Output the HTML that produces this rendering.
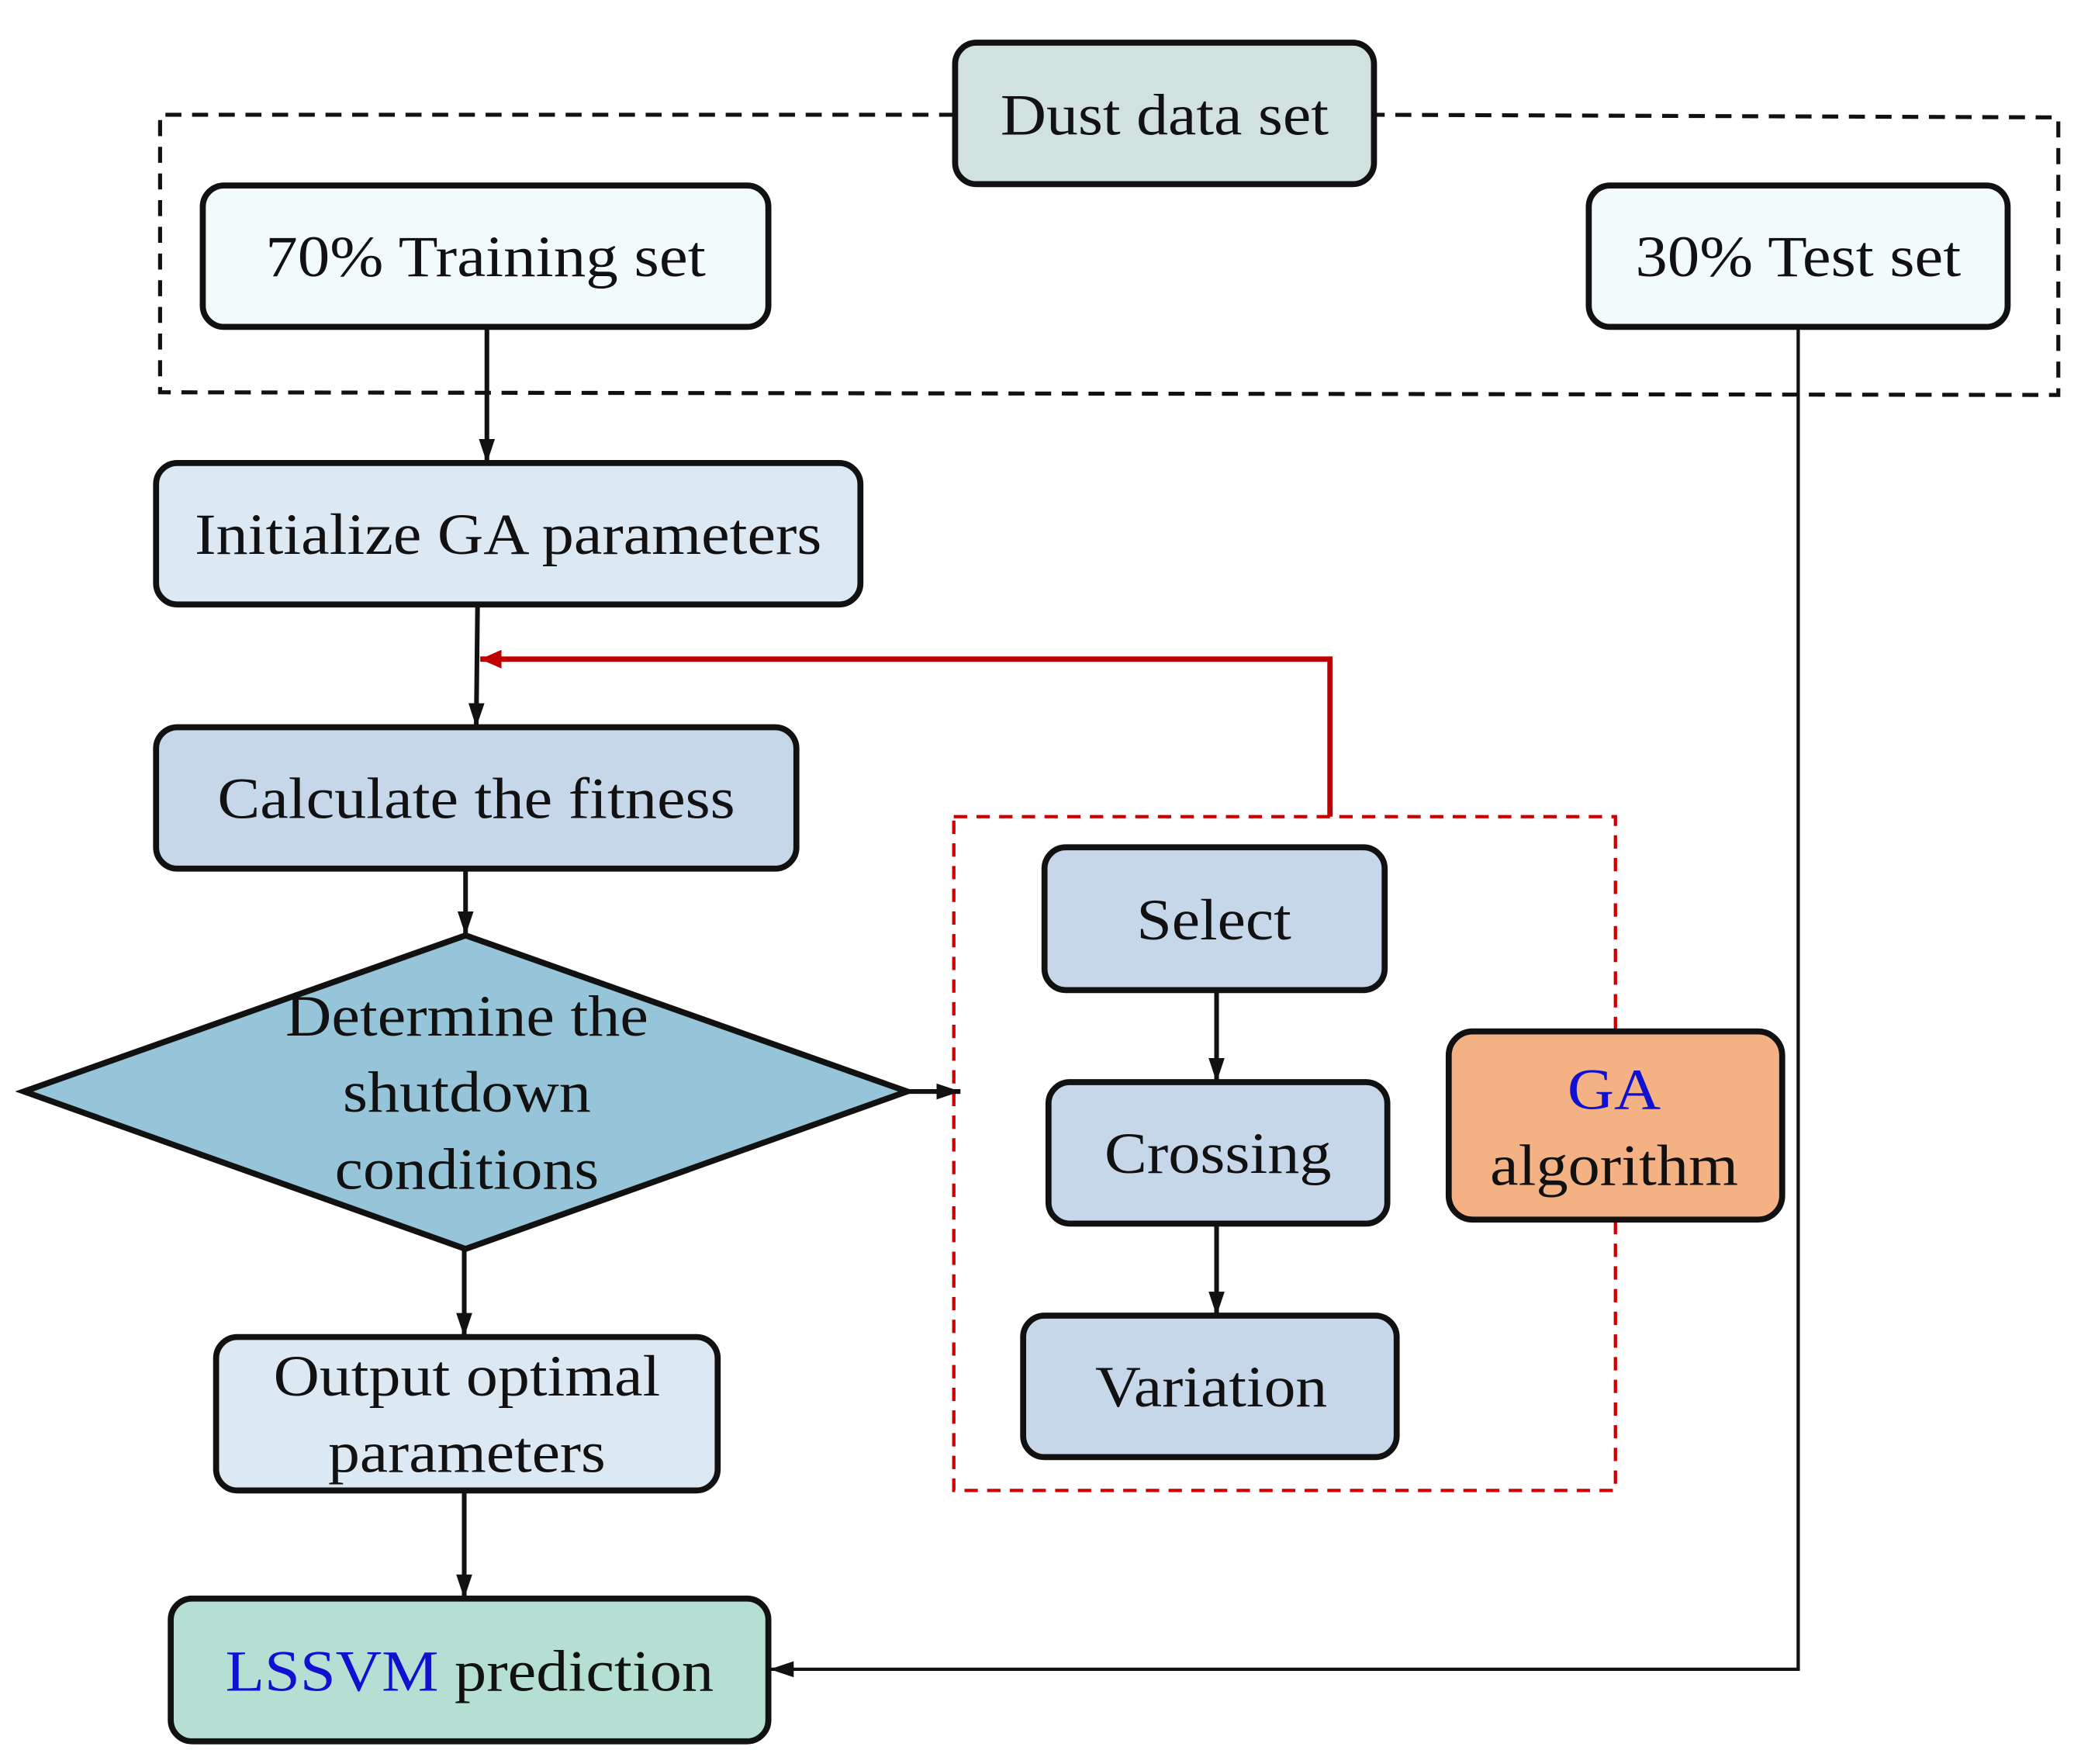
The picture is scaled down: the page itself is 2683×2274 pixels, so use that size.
<!DOCTYPE html>
<html><head><meta charset="utf-8"><style>
html,body{margin:0;padding:0;background:#fff;}
svg{display:block;}
text{font-family:"Liberation Serif",serif;font-size:44px;fill:#111;text-anchor:middle;}
</style></head><body>
<svg width="2683" height="2274" viewBox="0 0 1560 1322" preserveAspectRatio="none" xmlns="http://www.w3.org/2000/svg">
<defs>
<marker id="ab" markerWidth="18" markerHeight="12" refX="18" refY="6" orient="auto" markerUnits="userSpaceOnUse"><path d="M0,0 L18,6 L0,12 z" fill="#111"/></marker>
<marker id="ar" markerWidth="16" markerHeight="14" refX="16" refY="7" orient="auto" markerUnits="userSpaceOnUse"><path d="M0,0 L16,7 L0,14 z" fill="#c00000"/></marker>
</defs>
<rect width="1560" height="1322" fill="#fff"/>
<path d="M716,86 L120,86 L120,294 L1543,296 L1543,88 L1030,86" fill="none" stroke="#111" stroke-width="3" stroke-dasharray="12,8"/>
<rect x="715" y="612" width="496" height="505" fill="none" stroke="#d00000" stroke-width="2.5" stroke-dasharray="10,7"/>
<g stroke="#111" stroke-width="3.5" fill="none">
<line x1="365" y1="245" x2="365" y2="347" marker-end="url(#ab)"/>
<line x1="358" y1="453" x2="357" y2="545" marker-end="url(#ab)"/>
<line x1="349" y1="651" x2="349" y2="701" marker-end="url(#ab)"/>
<line x1="348" y1="936" x2="348" y2="1002" marker-end="url(#ab)"/>
<line x1="348" y1="1117" x2="348" y2="1198" marker-end="url(#ab)"/>
<line x1="912" y1="742" x2="912" y2="811" marker-end="url(#ab)"/>
<line x1="912" y1="917" x2="912" y2="986" marker-end="url(#ab)"/>
<line x1="680" y1="818" x2="720" y2="818" marker-end="url(#ab)"/>
</g>
<polyline points="1348,245 1348,1251 577,1251" fill="none" stroke="#111" stroke-width="2.5" marker-end="url(#ab)"/>
<polyline points="997,612 997,494 360,494" fill="none" stroke="#c00000" stroke-width="4" marker-end="url(#ar)"/>
<g stroke="#111" stroke-width="4.5">
<rect x="716" y="32" width="314" height="106" rx="16" fill="#d1e1e0"/>
<rect x="152" y="139" width="424" height="106" rx="16" fill="#f2fbfb"/>
<rect x="1191" y="139" width="314" height="106" rx="16" fill="#f2fbfb"/>
<rect x="117" y="347" width="528" height="106" rx="16" fill="#dce8f2"/>
<rect x="117" y="545" width="480" height="106" rx="16" fill="#c5d7e8"/>
<polygon points="18,818 349,701 680,818 349,936" fill="#96c4d8"/>
<rect x="162" y="1002" width="376" height="115" rx="16" fill="#dce8f2"/>
<rect x="128" y="1198" width="448" height="107" rx="16" fill="#b6dfd4"/>
<rect x="783" y="635" width="255" height="107" rx="16" fill="#c5d7e8"/>
<rect x="786" y="811" width="254" height="106" rx="16" fill="#c5d7e8"/>
<rect x="767" y="986" width="280" height="106" rx="16" fill="#c5d7e8"/>
<rect x="1086" y="773" width="250" height="141" rx="18" fill="#f4b183"/>
</g>
<text x="873" y="101" textLength="246" lengthAdjust="spacingAndGlyphs">Dust data set</text>
<text x="364" y="207" textLength="330" lengthAdjust="spacingAndGlyphs">70% Training set</text>
<text x="1348" y="207" textLength="244" lengthAdjust="spacingAndGlyphs">30% Test set</text>
<text x="381" y="415" textLength="470" lengthAdjust="spacingAndGlyphs">Initialize GA parameters</text>
<text x="357" y="613" textLength="388" lengthAdjust="spacingAndGlyphs">Calculate the fitness</text>
<text x="350" y="776" textLength="272" lengthAdjust="spacingAndGlyphs">Determine the</text>
<text x="350" y="833" textLength="186" lengthAdjust="spacingAndGlyphs">shutdown</text>
<text x="350" y="891" textLength="198" lengthAdjust="spacingAndGlyphs">conditions</text>
<text x="350" y="1046" textLength="290" lengthAdjust="spacingAndGlyphs">Output optimal</text>
<text x="350" y="1103" textLength="208" lengthAdjust="spacingAndGlyphs">parameters</text>
<text x="352" y="1267" textLength="366" lengthAdjust="spacingAndGlyphs"><tspan fill="#1010d0">LSSVM</tspan> prediction</text>
<text x="910" y="704" textLength="116" lengthAdjust="spacingAndGlyphs">Select</text>
<text x="913" y="879" textLength="170" lengthAdjust="spacingAndGlyphs">Crossing</text>
<text x="908" y="1054" textLength="174" lengthAdjust="spacingAndGlyphs">Variation</text>
<text x="1210" y="831" style="fill:#1010d0" textLength="70" lengthAdjust="spacingAndGlyphs">GA</text>
<text x="1210" y="888" textLength="186" lengthAdjust="spacingAndGlyphs">algorithm</text>
</svg>
</body></html>
